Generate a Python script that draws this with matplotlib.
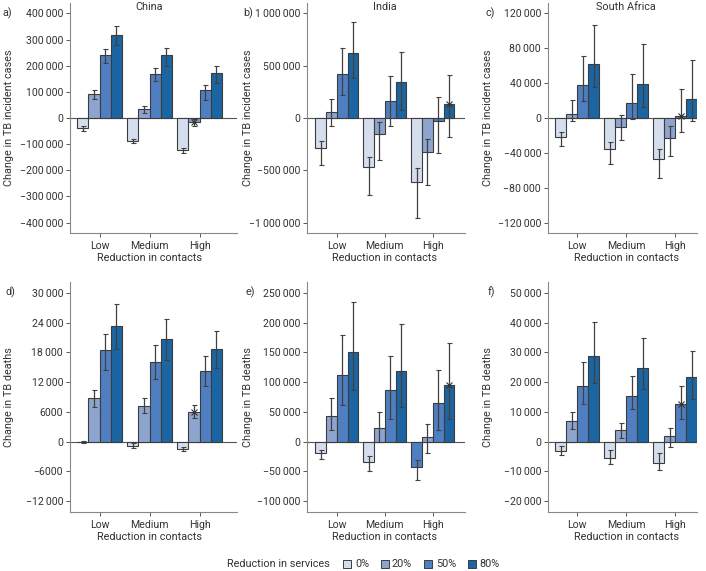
import matplotlib.pyplot as plt
import matplotlib.transforms as mtransforms
from matplotlib.patches import Rectangle
import numpy as np

plt.rcParams['font.family'] = ['Roboto', 'DejaVu Sans']

W, H = 706, 571

contacts = ['Low', 'Medium', 'High']
services = ['0%', '20%', '50%', '80%']
colours = ['#d5deed', '#8da4cf', '#4f7fc1', '#1b65a2']

# rows: reduction in contacts (low, medium, high)
# columns: reduction in services (0%, 20%, 50%, 80%)
china_cases = [[-38000, 92000, 240000, 317000],
               [-87000, 35000, 170000, 240000],
               [-123000, -15000, 108000, 173000]]
china_cases_lo = [[-49000, 72000, 212000, 281000],
                  [-95000, 19000, 140000, 199000],
                  [-132000, -29000, 69000, 135000]]
china_cases_hi = [[-31000, 108000, 265000, 353000],
                  [-80000, 46000, 191000, 269000],
                  [-115000, -5000, 127000, 200000]]

india_cases = [[-285000, 58000, 423000, 625000],
               [-465000, -154000, 167000, 346000],
               [-612000, -327000, -29000, 135000]]
india_cases_lo = [[-452000, -80000, 221000, 381000],
                  [-737000, -397000, -80000, 80000],
                  [-958000, -644000, -330000, -183000]]
india_cases_hi = [[-224000, 183000, 667000, 923000],
                  [-372000, -38000, 404000, 635000],
                  [-481000, -199000, 199000, 410000]]

sa_cases = [[-21500, 4600, 37700, 61500],
            [-36000, -10800, 17300, 39200],
            [-47300, -23500, 2300, 22300]]
sa_cases_lo = [[-32000, -3800, 20000, 35800],
               [-53000, -25400, -800, 12300],
               [-68500, -43800, -16000, -3000]]
sa_cases_hi = [[-16000, 20800, 71000, 107000],
               [-27700, 3500, 51000, 84600],
               [-36000, -9600, 33500, 66500]]

china_deaths = [[-60, 8770, 18400, 23400],
                [-800, 7230, 16000, 20800],
                [-1400, 5900, 14300, 18600]]
china_deaths_lo = [[-300, 6950, 14400, 18600],
                   [-1270, 5700, 12700, 16400],
                   [-1940, 4700, 11300, 14800]]
china_deaths_hi = [[200, 10500, 21800, 27800],
                   [-330, 8770, 19400, 24800],
                   [-1070, 7430, 17300, 22400]]

india_deaths = [[-20000, 43800, 112000, 150000],
                [-34000, 23600, 87000, 119000],
                [-43000, 7900, 65000, 95500]]
india_deaths_lo = [[-30000, 19000, 61000, 87000],
                   [-49400, -500, 37600, 58000],
                   [-64600, -20000, 19000, 37600]]
india_deaths_hi = [[-13500, 73600, 179000, 235000],
                   [-23600, 49400, 144000, 197000],
                   [-31000, 30300, 120000, 166000]]

sa_deaths = [[-3100, 6800, 18700, 28700],
             [-5500, 3900, 15500, 24600],
             [-7200, 1900, 12800, 21700]]
sa_deaths_lo = [[-4600, 4100, 12700, 19800],
                [-7500, 1200, 11000, 17800],
                [-9600, -1700, 7600, 14400]]
sa_deaths_hi = [[-1600, 9900, 26800, 40200],
                [-2900, 6400, 22100, 34800],
                [-3700, 4500, 18700, 30600]]


def fmt(v):
    s = str(abs(int(v)))
    if len(s) > 4:
        parts = []
        while s:
            parts.insert(0, s[-3:])
            s = s[:-3]
        s = '\u2009'.join(parts)
    return ('\u2212' if v < 0 else '') + s


def box(x0, x1, y0, y1):
    return [x0 / W, 1 - y1 / H, (x1 - x0) / W, (y1 - y0) / H]


cases_label = 'Change in TB incident cases'
deaths_label = 'Change in TB deaths'

# x pixel of the y-label centre and of the panel letter, per column
ylab_x = {70: 9, 307: 248, 548: 488}
letter_x = {70: 2, 307: 243, 548: 485}

panels = [
    ('a)', 'China', cases_label, china_cases, china_cases_lo, china_cases_hi,
     (-440000, 440000), np.arange(-400000, 400001, 100000),
     (70, 237, 3, 233), (-0.59, 2.75), (2, 1), {}),
    ('b)', 'India', cases_label, india_cases, india_cases_lo, india_cases_hi,
     (-1100000, 1100000), np.arange(-1000000, 1000001, 500000),
     (307, 465, 3, 233), (-0.62, 2.67), (2, 3), {}),
    ('c)', 'South Africa', cases_label, sa_cases, sa_cases_lo, sa_cases_hi,
     (-132000, 132000), np.arange(-120000, 120001, 40000),
     (548, 697, 3, 233), (-0.6, 2.45), (2, 2), {}),
    ('d)', '', deaths_label, china_deaths, china_deaths_lo, china_deaths_hi,
     (-14200, 32200), np.arange(-12000, 30001, 6000),
     (70, 237, 282, 512), (-0.59, 2.75), (2, 1), {}),
    ('e)', '', deaths_label, india_deaths, india_deaths_lo, india_deaths_hi,
     (-118500, 268500), np.arange(-100000, 250001, 50000),
     (307, 465, 282, 512), (-0.62, 2.67), (2, 3), {(2, 0): colours[2]}),
    ('f)', '', deaths_label, sa_deaths, sa_deaths_lo, sa_deaths_hi,
     (-23700, 53700), np.arange(-20000, 50001, 10000),
     (548, 697, 282, 512), (-0.6, 2.45), (2, 2), {}),
]

fig = plt.figure(figsize=(W / 100, H / 100), dpi=100)
w = 0.225
x = np.arange(len(contacts))
txt = '#333333'

for letter, title, ylab, vals, lo, hi, ylim, yt, bx, xlim, mark, recol in panels:
    x0, x1, y0, y1 = bx
    ax = fig.add_axes(box(x0, x1, y0, y1))
    vals = np.array(vals)
    lo = np.array(lo)
    hi = np.array(hi)
    for j in range(len(services)):
        pos = x + (j - 1.5) * w
        cols = [recol.get((i, j), colours[j]) for i in range(len(contacts))]
        ax.bar(pos, vals[:, j], w, color=cols, edgecolor='#3c3c3c',
               linewidth=0.8, zorder=2)
        ax.errorbar(pos, vals[:, j],
                    yerr=[vals[:, j] - lo[:, j], hi[:, j] - vals[:, j]],
                    fmt='none', ecolor='#404040', elinewidth=0.9,
                    capsize=1.8, capthick=0.8, zorder=3)
    # little cross mark seen on one bar per panel
    mi, mj = mark
    ax.plot(x[mi] + (mj - 1.5) * w, vals[mi, mj], marker='x', ms=4,
            mew=0.8, color='#333333', zorder=4)

    ax.axhline(0, color='#555555', lw=0.8, zorder=1)
    ax.set_ylim(*ylim)
    ax.set_xlim(*xlim)
    ax.set_yticks(yt)
    ax.set_yticklabels([fmt(v) for v in yt])
    ax.set_xticks(x)
    ax.set_xticklabels(contacts)
    ax.tick_params(axis='both', labelsize=7.6, colors='#555555',
                   labelcolor=txt, length=3, width=0.7, pad=2)
    ax.tick_params(axis='x', pad=3)
    for s in ['top', 'right']:
        ax.spines[s].set_visible(False)
    for s in ['left', 'bottom']:
        ax.spines[s].set_color('#888888')
        ax.spines[s].set_linewidth(0.8)

    ax.set_ylabel(ylab, fontsize=7.8, color=txt, va='center')
    ax.yaxis.set_label_coords((ylab_x[x0] - x0) / (x1 - x0), 0.5)

    tr = mtransforms.blended_transform_factory(ax.transData, ax.transAxes)
    ax.text(1, -25 / (y1 - y0), 'Reduction in contacts', transform=tr,
            ha='center', va='center', fontsize=7.8, color=txt)
    if title:
        ax.text(1, 1 - 3.5 / (y1 - y0), title, transform=tr, ha='center',
                va='center', fontsize=7.8, color=txt)
    lx = letter_x[x0] + (3 if y0 > 100 else 0)
    fig.text(lx / W, 1 - (y0 + 10) / H, letter, fontsize=7.8, color=txt,
             ha='left', va='center')

# legend for the service reduction
ly = 564
fig.text(330 / W, 1 - ly / H, 'Reduction in services', ha='right',
         va='center', fontsize=7.8, color=txt)
sq_x = [343, 381, 424, 468]
tx_x = [355, 392, 436, 479]
for k in range(len(services)):
    fig.add_artist(Rectangle((sq_x[k] / W, 1 - (ly + 4) / H), 8 / W, 8 / H,
                             transform=fig.transFigure, facecolor=colours[k],
                             edgecolor='#3c3c3c', linewidth=0.7))
    fig.text(tx_x[k] / W, 1 - ly / H, services[k], ha='left', va='center',
             fontsize=7.8, color=txt)

plt.savefig('out.png', dpi=100)
